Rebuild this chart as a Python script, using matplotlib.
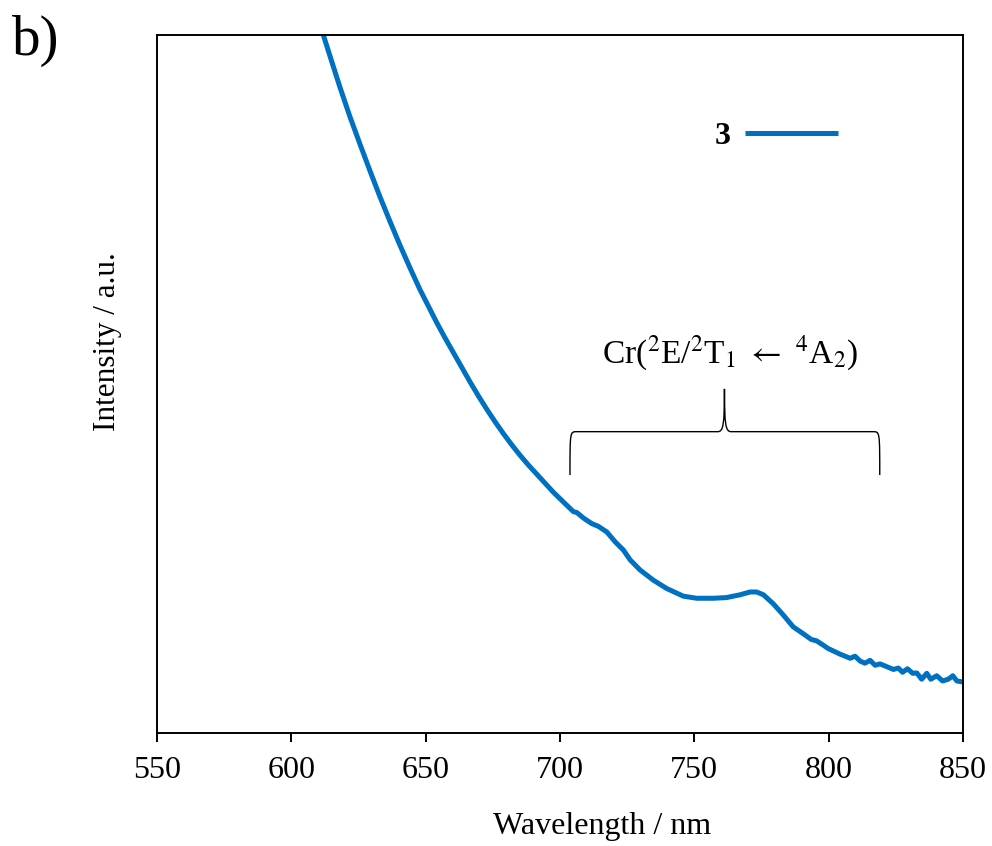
import matplotlib
matplotlib.use('Agg')
import matplotlib.pyplot as plt
from matplotlib.path import Path
from matplotlib.patches import PathPatch

plt.rcParams['font.family'] = ['Liberation Serif', 'DejaVu Serif']
plt.rcParams['mathtext.fontset'] = 'stix'

# spectrum (wavelength in nm, intensity in a.u.)
wavelength = [610.0, 611.9, 614.4, 618.1, 621.8, 625.6, 629.3, 633.0, 636.7, 640.4,
              644.2, 647.9, 654.1, 657.2, 660.3, 663.4, 666.5, 669.6, 672.7, 675.8,
              678.9, 682.0, 685.1, 688.2, 691.3, 694.4, 697.5, 701.5, 705.0, 706.2,
              708.7, 711.8, 714.3, 717.4, 720.5, 723.6, 726.1, 729.8, 734.7, 739.7,
              745.9, 750.9, 757.1, 762.0, 767.0, 770.7, 773.2, 775.7, 779.4, 783.1,
              786.8, 790.6, 793.5, 795.5, 797.9, 799.8, 804.2, 808.0, 809.8, 811.7,
              813.5, 815.4, 817.3, 819.1, 824.1, 825.9, 827.5, 829.3, 831.3, 832.8,
              834.6, 836.5, 838.0, 840.2, 842.4, 844.5, 846.2, 847.7, 850.1]
intensity = [102.3, 100.0, 96.95, 92.5, 88.3, 84.3, 80.5, 76.8, 73.3, 69.9,
             66.6, 63.5, 58.8, 56.6, 54.5, 52.4, 50.3, 48.3, 46.4, 44.6,
             42.9, 41.3, 39.8, 38.4, 37.1, 35.8, 34.5, 33.0, 31.7, 31.6,
             30.8, 30.0, 29.6, 28.8, 27.4, 26.2, 24.8, 23.35, 21.9, 20.7,
             19.6, 19.3, 19.3, 19.4, 19.8, 20.2, 20.2, 19.8, 18.5, 16.9,
             15.2, 14.2, 13.4, 13.2, 12.6, 12.1, 11.3, 10.7, 11.0, 10.3,
             10.0, 10.4, 9.7, 9.9, 9.1, 9.3, 8.7, 9.2, 8.55, 8.6,
             7.7, 8.55, 7.7, 8.2, 7.45, 7.7, 8.2, 7.45, 7.3]

x_ticks = [550, 600, 650, 700, 750, 800, 850]
series_label = '3'
band_label = r'Cr($^{2}$E/$^{2}$T$_{1}$ $\leftarrow$ $^{4}$A$_{2}$)'

fig = plt.figure(figsize=(9.92, 8.46), dpi=100)
ax = fig.add_axes([0.1583, 0.1336, 0.8125, 0.8250])

ax.plot(wavelength, intensity, color='#0070C0', lw=3.6, label=series_label,
        solid_joinstyle='round', solid_capstyle='butt')

ax.set_xlim(550, 850)
ax.set_ylim(0, 100)
ax.set_xticks(x_ticks)
ax.set_yticks([])
ax.tick_params(axis='x', direction='out', length=6.5, width=1.4, labelsize=23, pad=10)
for s in ax.spines.values():
    s.set_linewidth(1.4)

ax.set_xlabel('Wavelength / nm', fontsize=23)
ax.xaxis.set_label_coords(0.552, -0.113)
ax.set_ylabel('Intensity / a.u.', fontsize=22.5)
ax.yaxis.set_label_coords(-0.043, 0.56)

leg = ax.legend(loc='center', bbox_to_anchor=(0.7686, 0.855), frameon=False,
                markerfirst=False, handlelength=2.9, handletextpad=0.45,
                prop={'weight': 'bold', 'size': 23})

# curly brace over the Cr band
L, M, R = 703.7, 761.2, 819.0
yb, yh, yt = 36.96, 43.17, 49.3
verts = [(L, yb), (L, yh), (L, yh), (L + 2.5, yh),
         (M - 2.5, yh),
         (M - 0.4, yh), (M, yh + 1.0), (M, yt),
         (M, yh + 1.0), (M + 0.4, yh), (M + 2.5, yh),
         (R - 2.5, yh),
         (R, yh), (R, yh), (R, yb)]
codes = [Path.MOVETO, Path.CURVE4, Path.CURVE4, Path.CURVE4,
         Path.LINETO,
         Path.CURVE4, Path.CURVE4, Path.CURVE4,
         Path.CURVE4, Path.CURVE4, Path.CURVE4,
         Path.LINETO,
         Path.CURVE4, Path.CURVE4, Path.CURVE4]
ax.add_patch(PathPatch(Path(verts, codes), fill=False, lw=1.0, color='black'))
ax.text(763.3, 53.0, band_label, ha='center', va='baseline', fontsize=24)

fig.text(0.012, 0.935, 'b)', fontsize=41, va='baseline', ha='left')

fig.savefig('out.png', dpi=100)
